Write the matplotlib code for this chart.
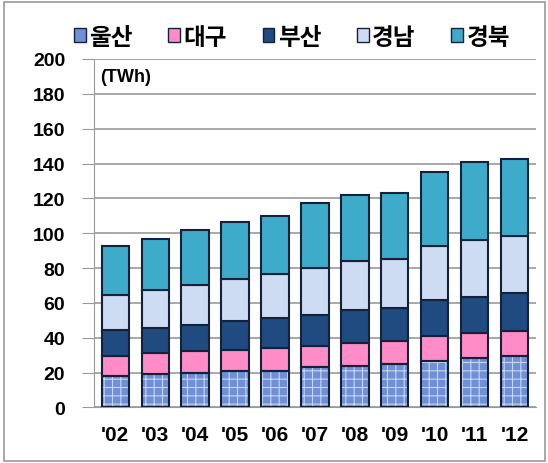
import numpy as np
import matplotlib.pyplot as plt
from matplotlib.patches import Rectangle

plt.rcParams['font.family'] = ['Liberation Sans', 'Noto Sans CJK KR', 'DejaVu Sans']
plt.rcParams['hatch.linewidth'] = 0.8

# electricity consumption by region, TWh
years = ["'02", "'03", "'04", "'05", "'06", "'07", "'08", "'09", "'10", "'11", "'12"]
regions = ['울산', '대구', '부산', '경남', '경북']
ulsan = [18.3, 19.3, 20.0, 20.8, 20.8, 23.1, 24.0, 25.0, 26.7, 28.1, 29.6]
daegu = [11.2, 11.9, 12.1, 12.3, 13.2, 11.9, 12.9, 13.1, 14.1, 14.4, 14.4]
busan = [15.1, 14.6, 15.4, 16.3, 17.4, 18.3, 19.2, 18.8, 20.9, 21.1, 21.5]
gyeongnam = [19.8, 21.5, 22.5, 24.2, 24.9, 26.9, 27.9, 28.2, 31.2, 32.7, 33.1]
gyeongbuk = [28.2, 29.2, 32.0, 33.1, 33.7, 37.0, 37.8, 37.7, 42.2, 44.6, 44.0]

series = [ulsan, daegu, busan, gyeongnam, gyeongbuk]
colors = ['#6f8fd6', '#ff8cc6', '#1f4b80', '#cddcf2', '#3dabc9']
edge = '#14213a'

fig = plt.figure(figsize=(5.48, 4.64), dpi=100)
ax = fig.add_axes([0.1715, 0.1198, 0.8065, 0.7509])

x = np.arange(len(years))
w = 0.68
bottom = np.zeros(len(years))
handles = []
for i, (vals, c) in enumerate(zip(series, colors)):
    vals = np.array(vals)
    if i == 0:
        # textured fill for the first series
        ax.bar(x, vals, w, bottom=bottom, color=c, edgecolor='#c8d6f5',
               hatch='++', linewidth=0, zorder=3)
        ax.bar(x, vals, w, bottom=bottom, fill=False, edgecolor=edge,
               linewidth=1.5, zorder=4)
    else:
        ax.bar(x, vals, w, bottom=bottom, color=c, edgecolor=edge,
               linewidth=1.5, zorder=3)
    handles.append(Rectangle((0, 0), 1, 1, facecolor=c, edgecolor=edge, linewidth=1))
    bottom += vals

ax.set_ylim(0, 200)
ax.set_xlim(-0.53, len(years) - 0.47)
ax.set_yticks(np.arange(0, 201, 20))
ax.set_xticks(x)
ax.set_xticklabels(years)
ax.yaxis.grid(True, color='#999999', linewidth=1.2, zorder=0)
ax.set_axisbelow(True)
for s in ['top', 'right']:
    ax.spines[s].set_visible(False)
ax.spines['left'].set_color('#999999')
ax.spines['bottom'].set_color('#999999')
ax.tick_params(axis='y', length=8.6, color='#999999', pad=12, labelsize=14)
ax.tick_params(axis='x', length=0, pad=13, labelsize=15)
for t in ax.get_yticklabels() + ax.get_xticklabels():
    t.set_fontweight('bold')

ax.text(0.015, 0.975, '(TWh)', transform=ax.transAxes, ha='left', va='top',
        fontsize=13, fontweight='bold')

fig.legend(handles, regions, loc='upper left', bbox_to_anchor=(0.135, 0.945),
           ncol=5, frameon=False, handlelength=0.5, handleheight=0.5,
           handletextpad=0.15, columnspacing=1.5, borderaxespad=0, borderpad=0,
           prop={'family': ['Noto Sans CJK KR', 'DejaVu Sans'], 'size': 17,
                 'weight': 'bold'})

fig.patches.append(Rectangle((0.007, 0.004), 0.987, 0.99, transform=fig.transFigure,
                             fill=False, edgecolor='#999999', linewidth=1.2))

fig.savefig('out.png', dpi=100)
